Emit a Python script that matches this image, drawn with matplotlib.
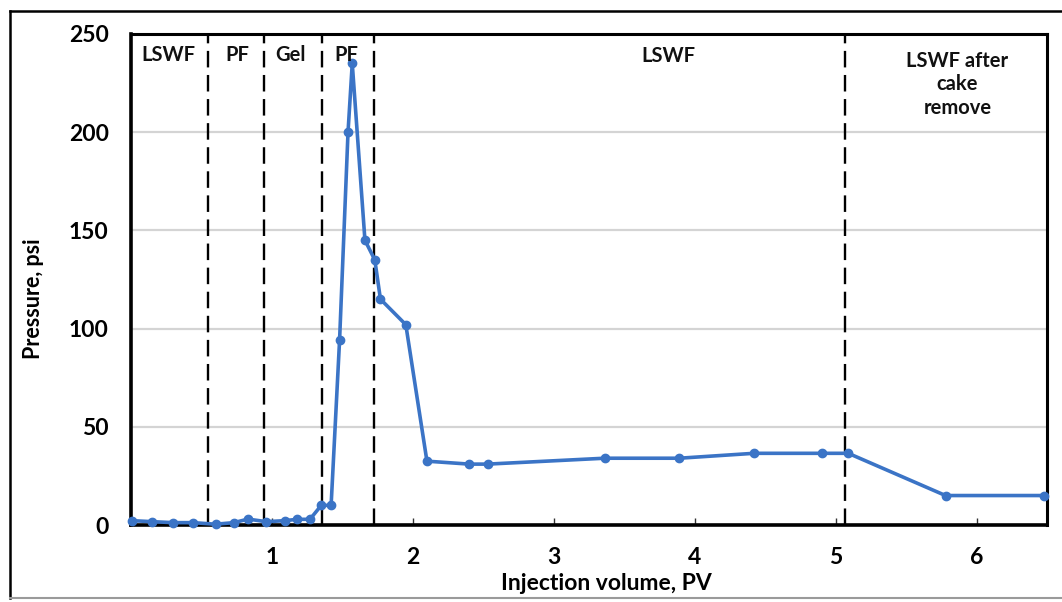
import matplotlib
matplotlib.use("Agg")
import matplotlib.pyplot as plt
from matplotlib.lines import Line2D

# ---- data ----
injection_pv = [0.01, 0.15, 0.30, 0.44, 0.60, 0.73, 0.83, 0.96, 1.09, 1.18,
                1.27, 1.35, 1.42, 1.48, 1.54, 1.57, 1.66, 1.73, 1.77, 1.95,
                2.10, 2.40, 2.53, 3.36, 3.89, 4.42, 4.90, 5.09, 5.78, 6.48]
pressure_psi = [2.2, 1.7, 1.2, 1.2, 0.4, 1.2, 3.0, 1.7, 2.2, 2.9,
                2.9, 10.0, 10.0, 94.0, 200.0, 235.0, 145.0, 135.0, 115.0, 102.0,
                32.5, 31.0, 31.0, 34.0, 34.0, 36.5, 36.5, 36.5, 15.0, 15.0]

stage_boundaries = [0.546, 0.943, 1.355, 1.723, 5.07]
stage_labels = ["LSWF", "PF", "Gel", "PF", "LSWF", "LSWF after\ncake\nremove"]
stage_label_x = [0.265, 0.752, 1.135, 1.53, 3.81, 5.865]
stage_label_y = [239.3, 239.3, 239.3, 239.3, 239.0, 224.5]

x_ticks = [1, 2, 3, 4, 5, 6]
y_ticks = [0, 50, 100, 150, 200, 250]

FONT = ["Lato", "DejaVu Sans"]
plt.rcParams["font.family"] = FONT
plt.rcParams["font.weight"] = "bold"

W, H = 1062, 602
fig = plt.figure(figsize=(W / 100, H / 100), dpi=100)
ax = fig.add_axes([131 / W, 1 - 525 / H, (1047 - 131) / W, (525 - 34) / H])

ax.set_xlim(0, 6.5)
ax.set_ylim(0, 250)

ax.yaxis.grid(True, color="#d4d4d4", linewidth=1.6)
ax.set_axisbelow(True)

for xb in stage_boundaries:
    ax.axvline(xb, color="black", linewidth=1.7, linestyle=(0, (7, 3.2)), zorder=2)

ax.plot(injection_pv, pressure_psi, color="#3B74C6", linewidth=2.6,
        marker="o", markersize=6, zorder=3, clip_on=False)

for x, y, lab in zip(stage_label_x, stage_label_y, stage_labels):
    ax.text(x, y, lab, ha="center", va="center", fontsize=14.5,
            fontweight="bold", linespacing=1.22, color="#111111")

ax.set_xticks(x_ticks)
ax.set_yticks(y_ticks)
ax.tick_params(axis="x", direction="in", length=5, width=1, color="#333333",
               labelsize=16.5, pad=16)
ax.tick_params(axis="y", length=0, labelsize=16.5, pad=16)
for lbl in ax.get_xticklabels() + ax.get_yticklabels():
    lbl.set_fontweight("bold")

for side in ["left", "bottom"]:
    ax.spines[side].set_linewidth(2.6)
for side in ["top", "right"]:
    ax.spines[side].set_linewidth(2.2)
for s in ax.spines.values():
    s.set_color("black")

fig.text(606 / W, 1 - 584 / H, "Injection volume, PV", ha="center", va="center",
         fontsize=16.5, fontweight="bold")
fig.text(33 / W, 1 - 299 / H, "Pressure, psi", ha="center", va="center",
         rotation=90, fontsize=15.5, fontweight="bold")

# outer frame
fig.add_artist(Line2D([10 / W, 10 / W], [1 - 11 / H, 1 - 598 / H], color="black", linewidth=1.8))
fig.add_artist(Line2D([10 / W, 1.01], [1 - 11 / H, 1 - 11 / H], color="black", linewidth=1.8))
fig.add_artist(Line2D([10 / W, 1.01], [1 - 598 / H, 1 - 598 / H], color="#9a9a9a", linewidth=1.5))

fig.savefig("out.png", dpi=100)
